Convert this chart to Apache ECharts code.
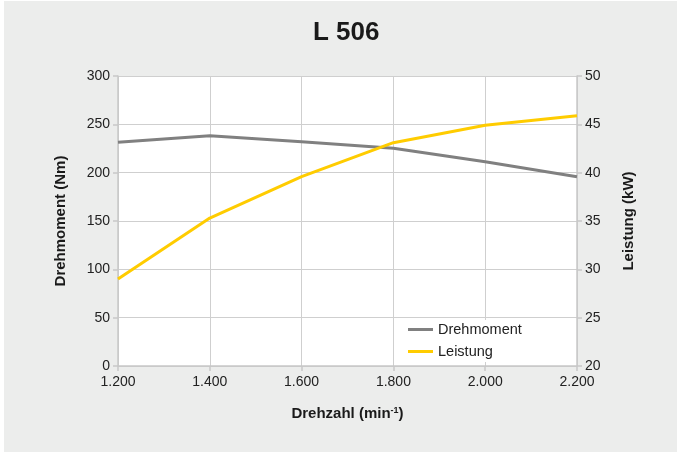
<!DOCTYPE html>
<html><head><meta charset="utf-8">
<script src="https://cdn.jsdelivr.net/npm/echarts@6/dist/echarts.min.js"></script>
<style>
html,body{margin:0;padding:0;background:#fff;}
#bg{position:absolute;left:4px;top:1px;width:673px;height:451px;background:#ECEDEC;}
#c{position:absolute;left:0;top:0;width:677px;height:452px;}
</style></head><body>
<div id="bg"></div>
<div id="c"></div>
<script>
const title = 'L 506';
const rpm = [1200, 1400, 1600, 1800, 2000, 2200];
const drehmoment = [231.4, 238.2, 232.0, 225.2, 211.3, 195.8];
const leistung = [29.0, 35.3, 39.6, 43.1, 44.9, 45.9];
const seriesNames = ['Drehmoment', 'Leistung'];
const xName = 'Drehzahl (min';
const yLeftName = 'Drehmoment (Nm)';
const yRightName = 'Leistung (kW)';

const font = '"Liberation Sans", Arial, sans-serif';
const chart = echarts.init(document.getElementById('c'), null, {renderer: 'canvas'});
const fmt = v => String(v).replace(/\B(?=(\d{3})+(?!\d))/g, '.');
const axisLine = {show: true, lineStyle: {color: '#c8c8c8', width: 1.5}};
const axisTick = {show: true, length: 5, lineStyle: {color: '#c8c8c8', width: 1.5}};
const splitLine = {show: true, lineStyle: {color: '#cfcfcf', width: 1}};
const nameStyle = {fontFamily: font, fontSize: 15, fontWeight: 'bold', color: '#1a1a1a'};
const labelStyle = {fontFamily: font, fontSize: 14, color: '#222'};
chart.setOption({
  backgroundColor: 'transparent',
  animation: false,
  textStyle: {fontFamily: font},
  title: {text: title, left: 308, top: 15, textStyle: {fontFamily: font, fontSize: 26, fontWeight: 'bold', color: '#1a1a1a'}},
  grid: {left: 118, right: 100, top: 76, bottom: 86, show: true, backgroundColor: '#fff', borderWidth: 0},
  legend: {
    orient: 'vertical', left: 400, top: 320, width: 170,
    backgroundColor: '#fff', padding: [2, 10, 3, 8], itemGap: 7,
    icon: 'rect', itemWidth: 25, itemHeight: 3,
    textStyle: {fontFamily: font, fontSize: 14.5, color: '#222'},
    data: seriesNames
  },
  xAxis: {
    type: 'value', min: 1200, max: 2200, interval: 200,
    name: xName + '{sup|-1}{n|)}', nameLocation: 'middle', nameGap: 40,
    nameTextStyle: Object.assign({}, nameStyle, {
      rich: {sup: {fontSize: 9, fontWeight: 'bold', verticalAlign: 'top', padding: [0,0,7,0], color: '#1a1a1a', fontFamily: font},
             n: {fontSize: 15, fontWeight: 'bold', color: '#1a1a1a', fontFamily: font}}}),
    axisLine, axisTick, splitLine,
    axisLabel: Object.assign({}, labelStyle, {margin: 9, formatter: fmt})
  },
  yAxis: [{
    type: 'value', min: 0, max: 300, interval: 50, position: 'left',
    name: yLeftName, nameLocation: 'middle', nameGap: 50, nameRotate: 90,
    nameTextStyle: nameStyle,
    axisLine, axisTick, splitLine,
    axisLabel: Object.assign({}, labelStyle, {margin: 8})
  }, {
    type: 'value', min: 20, max: 50, interval: 5, position: 'right',
    name: yRightName, nameLocation: 'middle', nameGap: 44, nameRotate: 90,
    nameTextStyle: nameStyle,
    axisLine, axisTick, splitLine: {show: false},
    axisLabel: Object.assign({}, labelStyle, {margin: 8})
  }],
  series: [{
    name: seriesNames[0], type: 'line', yAxisIndex: 0, showSymbol: false, symbol: 'none',
    data: rpm.map((x, i) => [x, drehmoment[i]]),
    lineStyle: {color: '#808080', width: 3}, itemStyle: {color: '#808080'}
  }, {
    name: seriesNames[1], type: 'line', yAxisIndex: 1, showSymbol: false, symbol: 'none',
    data: rpm.map((x, i) => [x, leistung[i]]),
    lineStyle: {color: '#FFCC00', width: 3}, itemStyle: {color: '#FFCC00'}
  }]
});
</script>
</body></html>
